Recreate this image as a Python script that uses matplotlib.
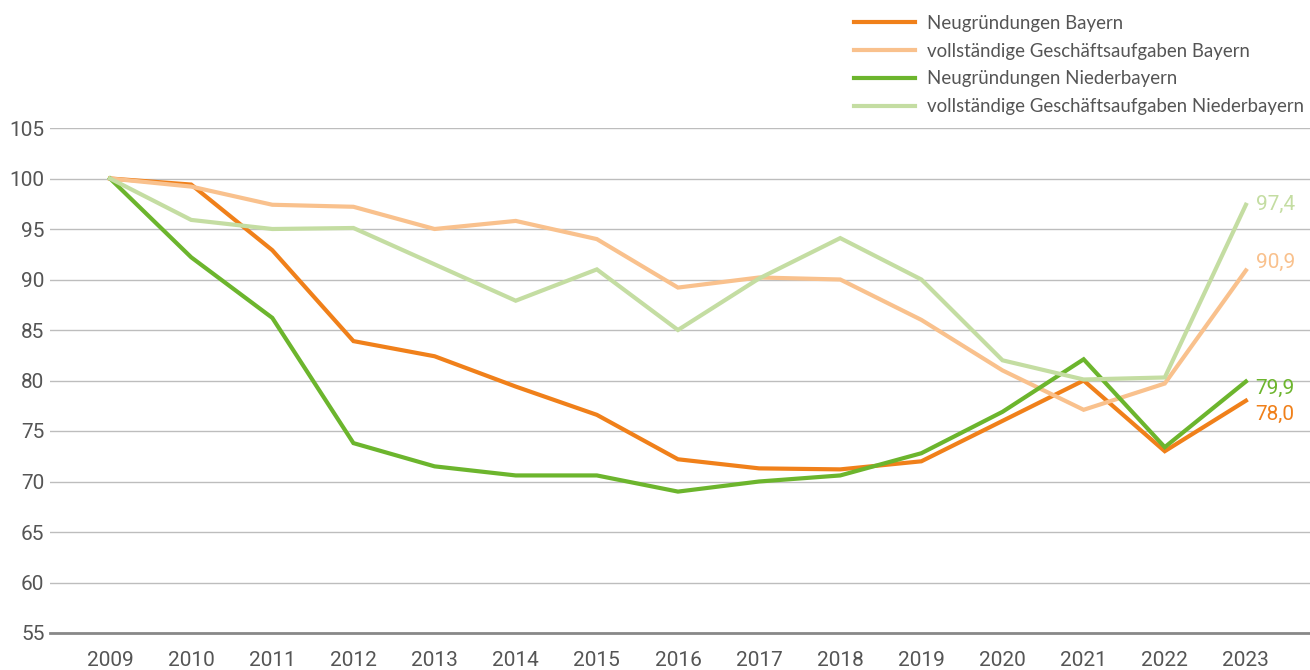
import matplotlib.pyplot as plt

years = list(range(2009, 2024))

neu_bayern = [100, 99.4, 92.9, 83.9, 82.4, 79.4, 76.6, 72.2, 71.3, 71.2, 72.0, 76.0, 80.0, 73.0, 78.0]
aufg_bayern = [100, 99.2, 97.4, 97.2, 95.0, 95.8, 94.0, 89.2, 90.2, 90.0, 86.0, 81.0, 77.1, 79.7, 90.9]
neu_ndb = [100, 92.2, 86.2, 73.8, 71.5, 70.6, 70.6, 69.0, 70.0, 70.6, 72.8, 76.9, 82.1, 73.4, 79.9]
aufg_ndb = [100, 95.9, 95.0, 95.1, 91.5, 87.9, 91.0, 85.0, 90.1, 94.1, 90.0, 82.0, 80.1, 80.3, 97.4]

labels = ["Neugründungen Bayern",
          "vollständige Geschäftsaufgaben Bayern",
          "Neugründungen Niederbayern",
          "vollständige Geschäftsaufgaben Niederbayern"]
colors = ["#F0801A", "#F9C18D", "#6CB52D", "#C4DDA2"]
series = [neu_bayern, aufg_bayern, neu_ndb, aufg_ndb]
# vertical nudge (points) for the end labels so they don't collide
end_offsets = [-10, 6, -5, 0]

text_col = "#555555"

fig = plt.figure(figsize=(13.1, 6.7), dpi=100)
ax = fig.add_axes([50 / 1310, 37 / 670, 1260 / 1310, (633 - 128) / 670])

for vals, col, lab in zip(series, colors, labels):
    ax.plot(years, vals, color=col, lw=3.0, label=lab, solid_joinstyle="miter", zorder=3)

for vals, col, dy in zip(series, colors, end_offsets):
    ax.annotate(f"{vals[-1]:.1f}".replace(".", ","), (years[-1], vals[-1]),
                xytext=(7, dy), textcoords="offset points", ha="left", va="center",
                color=col, fontsize=15, family="Roboto")

ax.set_xlim(2008.26, 2023.79)
ax.set_ylim(55, 105)
ax.set_yticks(range(55, 106, 5))
ax.set_xticks(years)
ax.grid(axis="y", color="#BDBDBD", lw=1)
ax.set_axisbelow(True)
for s in ["top", "right", "left"]:
    ax.spines[s].set_visible(False)
ax.spines["bottom"].set_color("#888888")
ax.spines["bottom"].set_linewidth(2)
ax.tick_params(axis="both", length=0, labelsize=15, labelcolor=text_col)
ax.tick_params(axis="y", pad=4)
ax.tick_params(axis="x", pad=13)
for t in ax.get_xticklabels() + ax.get_yticklabels():
    t.set_family("Roboto")

fig.legend(loc="upper left", bbox_to_anchor=(837 / 1310, 1 + 2 / 670), frameon=False,
           handlelength=3.3, handletextpad=0.62, labelspacing=0.58,
           labelcolor=text_col, prop={"family": "Lato", "size": 13.4})

fig.savefig("out.png", dpi=100)
